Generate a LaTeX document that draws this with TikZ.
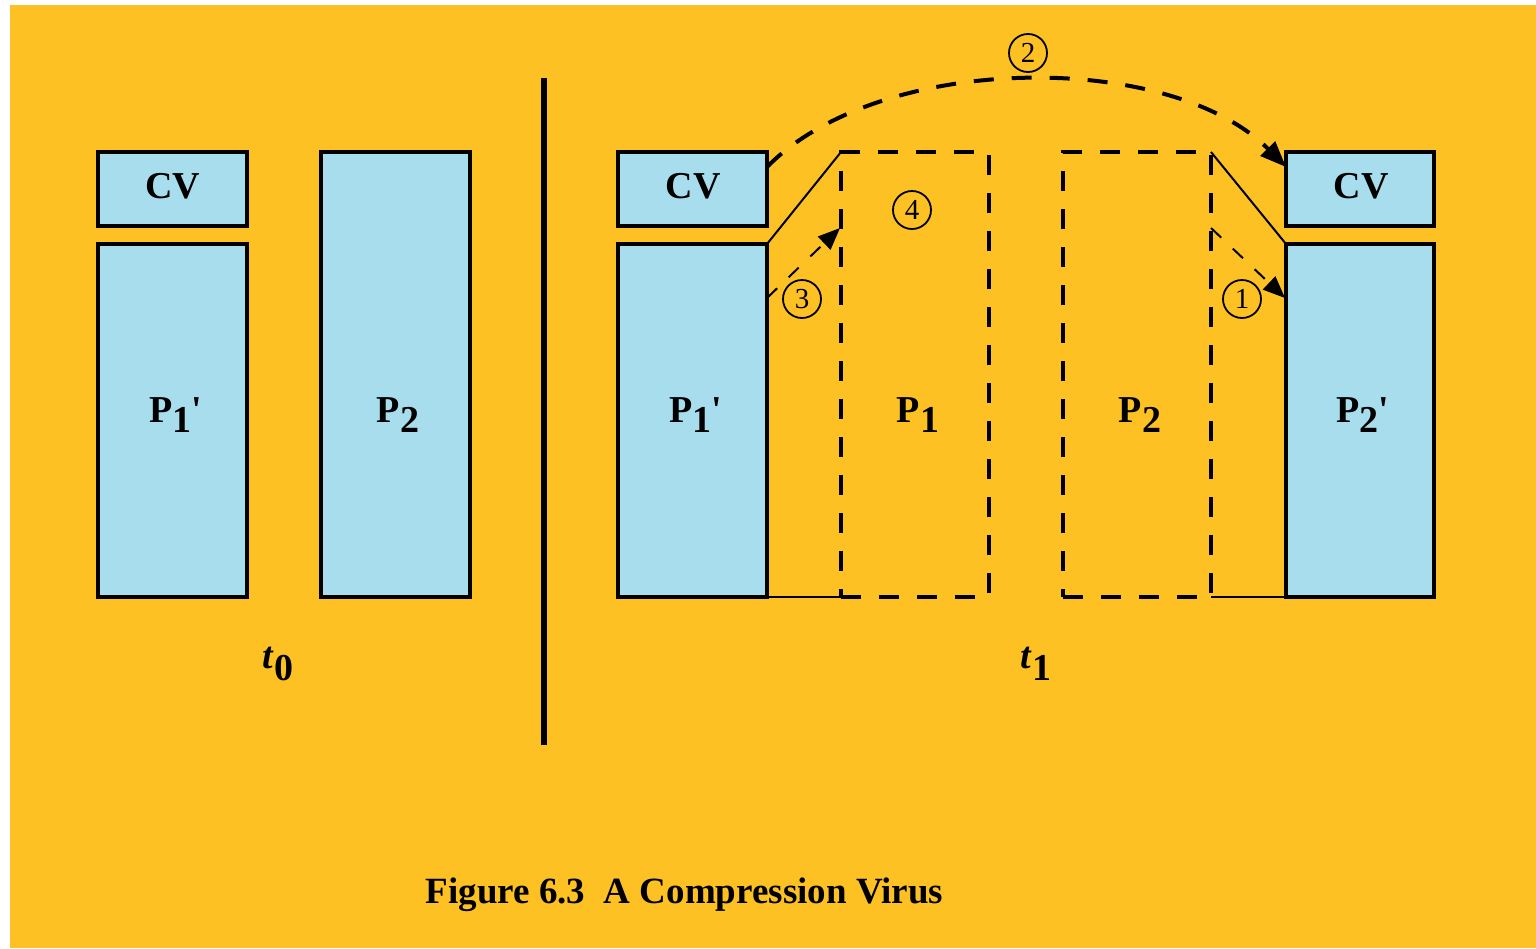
\documentclass[tikz,border=0pt]{standalone}
\usepackage{fontspec}
\setmainfont{Liberation Serif}
\usetikzlibrary{arrows.meta}
\definecolor{bgorange}{RGB}{253,193,36}
\definecolor{boxblue}{RGB}{167,221,236}
\tikzset{
  solidbox/.style={draw=black, fill=boxblue, line width=1.75pt, inner sep=0pt, outer sep=0pt},
  dashbox/.style={draw=black, line width=1.75pt, dash pattern=on 10pt off 9pt, inner sep=0pt, outer sep=0pt},
  lbl/.style={font=\fontsize{19}{21}\selectfont\bfseries, anchor=base, inner sep=0pt},
  numcirc/.style={circle, draw=black, line width=0.9pt, minimum size=19pt, inner sep=0pt, font=\fontsize{14.5}{16}\selectfont},
  thinline/.style={line width=1pt},
  bigarrow/.style={line width=2pt, dash pattern=on 10pt off 9pt, -{Triangle[length=13pt,width=10pt]}},
  smallarrow/.style={line width=1pt, dash pattern=on 7pt off 8pt, -{Triangle[length=11pt,width=9pt]}},
}
\begin{document}
\begin{tikzpicture}[x=0.5pt,y=-0.5pt]
\useasboundingbox (0,0) rectangle (1536,948);
\fill[white] (0,0) rectangle (1536,948);
\fill[bgorange] (10,5) rectangle (1536,948);
% left part (t0)
\node[solidbox, minimum width=74.5pt, minimum height=37pt] (cvA) at (172.5,189) {};
\node[solidbox, minimum width=74.5pt, minimum height=176.5pt] (p1A) at (172.5,420.5) {};
\node[solidbox, minimum width=74.5pt, minimum height=222.5pt] (p2A) at (395.5,374.5) {};
\node[lbl] (cvAl) at (173,198) {CV};
\node[lbl] (p1Al) at (176,422) {P\raisebox{-0.28em}{1}\textquotesingle};
\node[lbl] (p2Al) at (398,422) {P\raisebox{-0.28em}{2}};
\node[lbl] (t0) at (278,668) {\textit{t}\raisebox{-0.33em}{0}};
% separator
\coordinate (sepTop) at (544,78);
\coordinate (sepBot) at (544,745);
\draw[line width=3pt] (sepTop) -- (sepBot);
% right part (t1)
\node[solidbox, minimum width=74.5pt, minimum height=37pt] (cvB) at (692.5,189) {};
\node[solidbox, minimum width=74.5pt, minimum height=176.5pt] (p1B) at (692.5,420.5) {};
\node[dashbox, minimum width=74pt, minimum height=222.5pt] (p1D) at (915,374.5) {};
\node[dashbox, minimum width=74pt, minimum height=222.5pt] (p2D) at (1137,374.5) {};
\node[solidbox, minimum width=74pt, minimum height=37pt] (cvC) at (1360,189) {};
\node[solidbox, minimum width=74pt, minimum height=176.5pt] (p2C) at (1360,420.5) {};
\node[lbl] (cvBl) at (693,198) {CV};
\node[lbl] (p1Bl) at (696,422) {P\raisebox{-0.28em}{1}\textquotesingle};
\node[lbl] (p1Dl) at (918,422) {P\raisebox{-0.28em}{1}};
\node[lbl] (p2Dl) at (1140,422) {P\raisebox{-0.28em}{2}};
\node[lbl] (cvCl) at (1361,198) {CV};
\node[lbl] (p2Cl) at (1363,422) {P\raisebox{-0.28em}{2}\textquotesingle};
\node[lbl] (t1) at (1036,668) {\textit{t}\raisebox{-0.33em}{1}};
% thin connecting lines
\draw[thinline] (p1B.north east) -- (p1D.north west);
\draw[thinline] (p1B.south east) -- (p1D.south west);
\draw[thinline] (p2D.north east) -- (p2C.north west);
\draw[thinline] (p2D.south east) -- (p2C.south west);
% arrows
\coordinate (a2s) at (767,167);
\coordinate (a2e) at (1286,167);
\draw[bigarrow] (a2s) .. controls (880,52) and (1170,50) .. (a2e);
\coordinate (a3s) at (767,298);
\coordinate (a3e) at (840,228);
\draw[smallarrow] (a3s) -- (a3e);
\coordinate (a1s) at (1211,228);
\coordinate (a1e) at (1285,298);
\draw[smallarrow] (a1s) -- (a1e);
% circled numbers
\node[numcirc] (n2) at (1028,53) {2};
\node[numcirc] (n4) at (912,210) {4};
\node[numcirc] (n3) at (802,299) {3};
\node[numcirc] (n1) at (1242,299) {1};
% caption
\node[font=\fontsize{18.5}{22}\selectfont\bfseries, anchor=base, inner sep=0pt] (cap) at (684.5,903) {Figure 6.3\hspace{0.5em}A Compression Virus};
\end{tikzpicture}
\end{document}
